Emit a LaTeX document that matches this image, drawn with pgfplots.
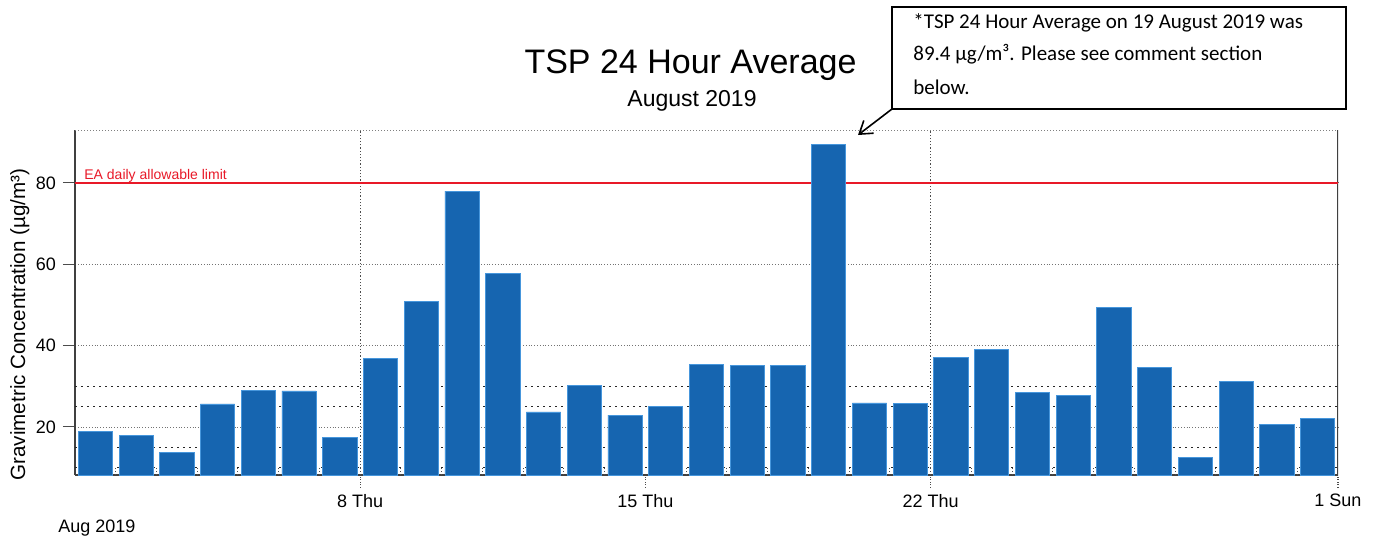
\documentclass[border=0pt]{standalone}
\usepackage{pgfplots}
\pgfplotsset{compat=1.18}
\usepackage{pgfplotstable}
\usepackage{fontspec}
\setmainfont{Liberation Sans}
\newfontfamily\calibri{Carlito}
\usetikzlibrary{arrows.meta}
\definecolor{barblue}{RGB}{22,101,176}
\definecolor{baredge}{RGB}{70,150,220}
\definecolor{limred}{RGB}{232,25,40}
\newcommand{\PX}[2]{({(#1)*0.5pt},{(537-(#2))*0.5pt})}
\pgfplotstableread{
x y
0.5 18.85
1.5 17.95
2.5 13.7
3.5 25.66
4.5 29.0
5.5 28.85
6.5 17.4
7.5 36.9
8.5 50.8
9.5 78.0
10.5 57.7
11.5 23.7
12.5 30.25
13.5 22.9
14.5 25.1
15.5 35.3
16.5 35.2
17.5 35.2
18.5 89.4
19.5 25.9
20.5 25.7
21.5 37.2
22.5 39.0
23.5 28.5
24.5 27.7
25.5 49.3
26.5 34.6
27.5 12.6
28.5 31.3
29.5 20.6
30.5 22.2
}\tspdata
\begin{document}
\begin{tikzpicture}
\path[use as bounding box] (0,0) rectangle (688.5pt,268.5pt);
\begin{axis}[
  at={(37.5pt,31pt)}, anchor=south west,
  scale only axis, width=631.5pt, height=172.5pt,
  xmin=0, xmax=31, ymin=8.2, ymax=93,
  axis x line*=bottom, axis y line*=left,
  axis line style={black!75, line width=0.7pt},
  xtick={7,14,21,31}, xticklabels={8 Thu,15 Thu,22 Thu,1 Sun},
  ytick={20,40,60,80},
  tick align=outside, major tick length=6pt,
  xtick pos=bottom, ytick pos=left,
  x tick style={black!70, densely dotted, line width=0.6pt},
  y tick style={black!70, line width=0.5pt},
  ymajorgrids, major grid style={black!55, densely dotted, line width=0.4pt},
  extra y ticks={10,15,25,30}, extra y tick labels={},
  extra y tick style={grid=major, major grid style={black!85, dash pattern=on 0.8pt off 2.2pt, line width=0.8pt}, major tick length=0pt},
  tick label style={font=\fontsize{9}{10}\selectfont, text=black},
  /pgf/number format/assume math mode=true,
]
\draw[black!70, densely dotted, line width=0.6pt] (axis cs:7,8.2) -- (axis cs:7,93);
\draw[black!70, densely dotted, line width=0.6pt] (axis cs:21,8.2) -- (axis cs:21,93);
\draw[black!50, densely dotted, line width=0.5pt] (rel axis cs:0,1) -- (rel axis cs:1,1);
\draw[black!75, line width=0.7pt] (rel axis cs:1,0) -- (rel axis cs:1,1);
\addplot[limred, line width=0.9pt, forget plot] coordinates {(0,80) (31,80)};
\addplot[ycomb, black!70, densely dotted, line width=0.5pt, no markers, forget plot] coordinates {
(1,10.4) (2,10.4) (3,10.4) (4,10.4) (5,10.4) (6,10.4) (8,10.4) (9,10.4) (10,10.4) (11,10.4)
(12,10.4) (13,10.4) (15,10.4) (16,10.4) (17,10.4) (18,10.4) (19,10.4) (20,10.4) (22,10.4)
(23,10.4) (24,10.4) (25,10.4) (26,10.4) (27,10.4) (28,10.4) (29,10.4) (30,10.4)};
\addplot[ybar, bar width=0.84, fill=barblue, draw=baredge, line width=0.4pt] table[x=x,y=y] {\tspdata};
\end{axis}
\node[anchor=base west, text=limred, inner sep=0pt, font=\fontsize{7}{8}\selectfont] at \PX{84}{179} {EA daily allowable limit};
\node[anchor=base, inner sep=0pt, font=\fontsize{17}{20}\selectfont] at \PX{690.5}{73} {TSP 24 Hour Average};
\node[anchor=base, inner sep=0pt, font=\fontsize{11.5}{13}\selectfont] at \PX{692}{107} {August 2019};
\node[anchor=base, rotate=90, inner sep=0pt, font=\fontsize{10.3}{12}\selectfont] at \PX{25}{324.5} {Gravimetric Concentration (µg/m³)};
\node[anchor=base west, inner sep=0pt, font=\fontsize{9}{10}\selectfont] at \PX{58}{532} {Aug 2019};
\draw[black, line width=0.8pt, fill=white] \PX{892}{7} rectangle \PX{1346}{109};
\node[anchor=base west, inner sep=0pt, font=\calibri\fontsize{10.5}{12}\selectfont] at \PX{913}{28} {*TSP 24 Hour Average on 19 August 2019 was};
\node[anchor=base west, inner sep=0pt, font=\calibri\fontsize{10.5}{12}\selectfont] at \PX{913}{61} {89.4 µg/m³. Please see comment section};
\node[anchor=base west, inner sep=0pt, font=\calibri\fontsize{10.5}{12}\selectfont] at \PX{913}{94} {below.};
\draw[black, line width=0.8pt, -{Straight Barb[length=6pt,width=8pt]}] \PX{892}{109} -- \PX{858}{135};
\end{tikzpicture}
\end{document}
